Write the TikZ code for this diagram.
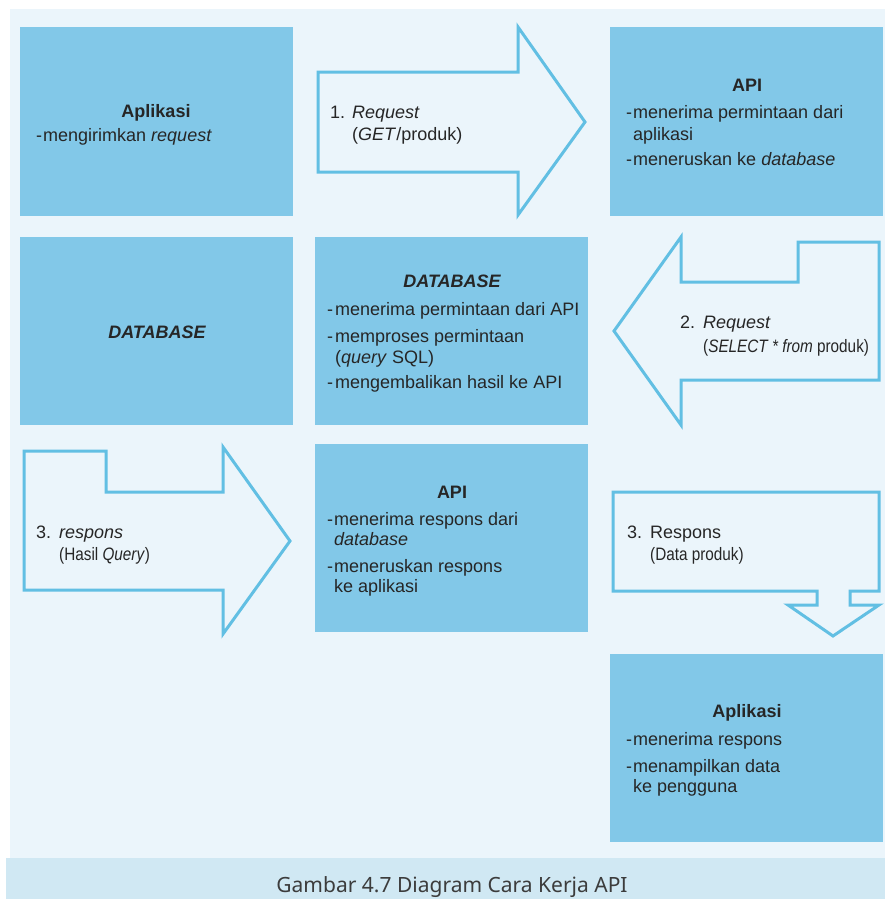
\documentclass[tikz,border=0pt]{standalone}
\usepackage{fontspec}
\setmainfont{Liberation Sans}
\newfontfamily\capfont{Noto Sans}
\newfontfamily\narrowfont[FakeStretch=0.85]{Liberation Sans}
\definecolor{pagebg}{HTML}{EBF5FB}
\definecolor{capbg}{HTML}{D0E8F3}
\definecolor{boxblue}{HTML}{82C8E8}
\definecolor{edgeblue}{HTML}{62BFE3}
\definecolor{ink}{HTML}{262626}
\newcommand{\bodysize}{\fontsize{18}{22}\selectfont}
\tikzset{
  panel/.style={fill=boxblue, draw=none, inner sep=0pt, outer sep=0pt, anchor=north west},
  flow/.style={draw=edgeblue, line width=3pt, fill=pagebg, line join=miter},
  txt/.style={anchor=base west, inner sep=0pt, font=\bodysize, text=ink},
  ttl/.style={anchor=base, inner sep=0pt, font=\bodysize\bfseries, text=ink},
  narrow/.style={anchor=base west, inner sep=0pt, font=\bodysize\narrowfont, text=ink},
}
\begin{document}
\begin{tikzpicture}[x=1pt, y=-1pt]
\useasboundingbox (0,0) rectangle (885,899);
% page background and caption band
\fill[pagebg] (10,9) rectangle (885,858);
\fill[capbg] (6,858) rectangle (885,899);
\node[anchor=base, inner sep=0pt, text=ink!90, font=\capfont\fontsize{21}{24}\selectfont] (caption) at (452,892) {Gambar 4.7 Diagram Cara Kerja API};

% blue panels
\node[panel, minimum width=273pt, minimum height=189pt] (app1) at (20,27) {};
\node[panel, minimum width=273pt, minimum height=189pt] (api1) at (610,27) {};
\node[panel, minimum width=273pt, minimum height=188pt] (db1) at (20,237) {};
\node[panel, minimum width=273pt, minimum height=188pt] (db2) at (315,237) {};
\node[panel, minimum width=273pt, minimum height=188pt] (api2) at (315,444) {};
\node[panel, minimum width=273pt, minimum height=188pt] (app2) at (610,654) {};

% block arrows
\draw[flow] (318,72) -- (518,72) -- (518,27) -- (585,122) -- (518,215) -- (518,172) -- (318,172) -- cycle;
\draw[flow] (681,237) -- (614,331) -- (681,425) -- (681,380) -- (879,380) -- (879,242) -- (798,242) -- (798,282) -- (681,282) -- cycle;
\draw[flow] (24,451) -- (106,451) -- (106,492) -- (223,492) -- (223,447) -- (290,541) -- (223,634) -- (223,590) -- (24,590) -- cycle;
\draw[flow] (613,492) -- (879,492) -- (879,591) -- (850,591) -- (850,605) -- (879,605) -- (833,636) -- (788,605) -- (817,605) -- (817,591) -- (613,591) -- cycle;

% Aplikasi (sending)
\node[ttl] (app1t) at (156,117) {Aplikasi};
\node[txt] (app1d1) at (36,141) {-};
\node[txt] (app1l1) at (43,141) {mengirimkan \textit{request}};

% API (forwarding request)
\node[ttl] (api1t) at (747,92) {API};
\node[txt] (api1d1) at (626,118) {-};
\node[txt] (api1l1) at (633,118) {menerima permintaan dari};
\node[txt] (api1l2) at (633,140) {aplikasi};
\node[txt] (api1d2) at (626,165) {-};
\node[txt] (api1l3) at (633,165) {meneruskan ke \textit{database}};

% DATABASE label
\node[ttl, font=\bodysize\bfseries\itshape] (db1t) at (157,338) {DATABASE};

% DATABASE (processing)
\node[ttl, font=\bodysize\bfseries\itshape] (db2t) at (452,287) {DATABASE};
\node[txt] (db2d1) at (327,315) {-};
\node[txt] (db2l1) at (335,315) {menerima permintaan dari API};
\node[txt] (db2d2) at (327,342) {-};
\node[txt] (db2l2) at (335,342) {memproses permintaan};
\node[txt] (db2l3) at (335,363) {(\textit{query} SQL)};
\node[txt] (db2d3) at (327,388) {-};
\node[txt] (db2l4) at (335,388) {mengembalikan hasil ke API};

% API (forwarding response)
\node[ttl] (api2t) at (452,498) {API};
\node[txt] (api2d1) at (327,525) {-};
\node[txt] (api2l1) at (334,525) {menerima respons dari};
\node[txt] (api2l2) at (334,545) {\textit{database}};
\node[txt] (api2d2) at (327,572) {-};
\node[txt] (api2l3) at (334,572) {meneruskan respons};
\node[txt] (api2l4) at (334,592) {ke aplikasi};

% Aplikasi (receiving)
\node[ttl] (app2t) at (747,717) {Aplikasi};
\node[txt] (app2d1) at (626,745) {-};
\node[txt] (app2l1) at (633,745) {menerima respons};
\node[txt] (app2d2) at (626,772) {-};
\node[txt] (app2l2) at (633,772) {menampilkan data};
\node[txt] (app2l3) at (633,792) {ke pengguna};

% arrow labels
\node[txt] (s1n) at (330,118) {1.};
\node[txt] (s1a) at (352,118) {\textit{Request}};
\node[txt] (s1b) at (352,140) {(\textit{GET}/produk)};

\node[txt] (s2n) at (680,328) {2.};
\node[txt] (s2a) at (703,328) {\textit{Request}};
\node[narrow] (s2b) at (703,352) {(\textit{SELECT * from} produk)};

\node[txt] (s3n) at (36,538) {3.};
\node[txt] (s3a) at (59,538) {\textit{respons}};
\node[narrow] (s3b) at (59,560) {(Hasil \textit{Query})};

\node[txt] (s4n) at (627,538) {3.};
\node[txt] (s4a) at (650,538) {Respons};
\node[narrow] (s4b) at (650,560) {(Data produk)};
\end{tikzpicture}
\end{document}
